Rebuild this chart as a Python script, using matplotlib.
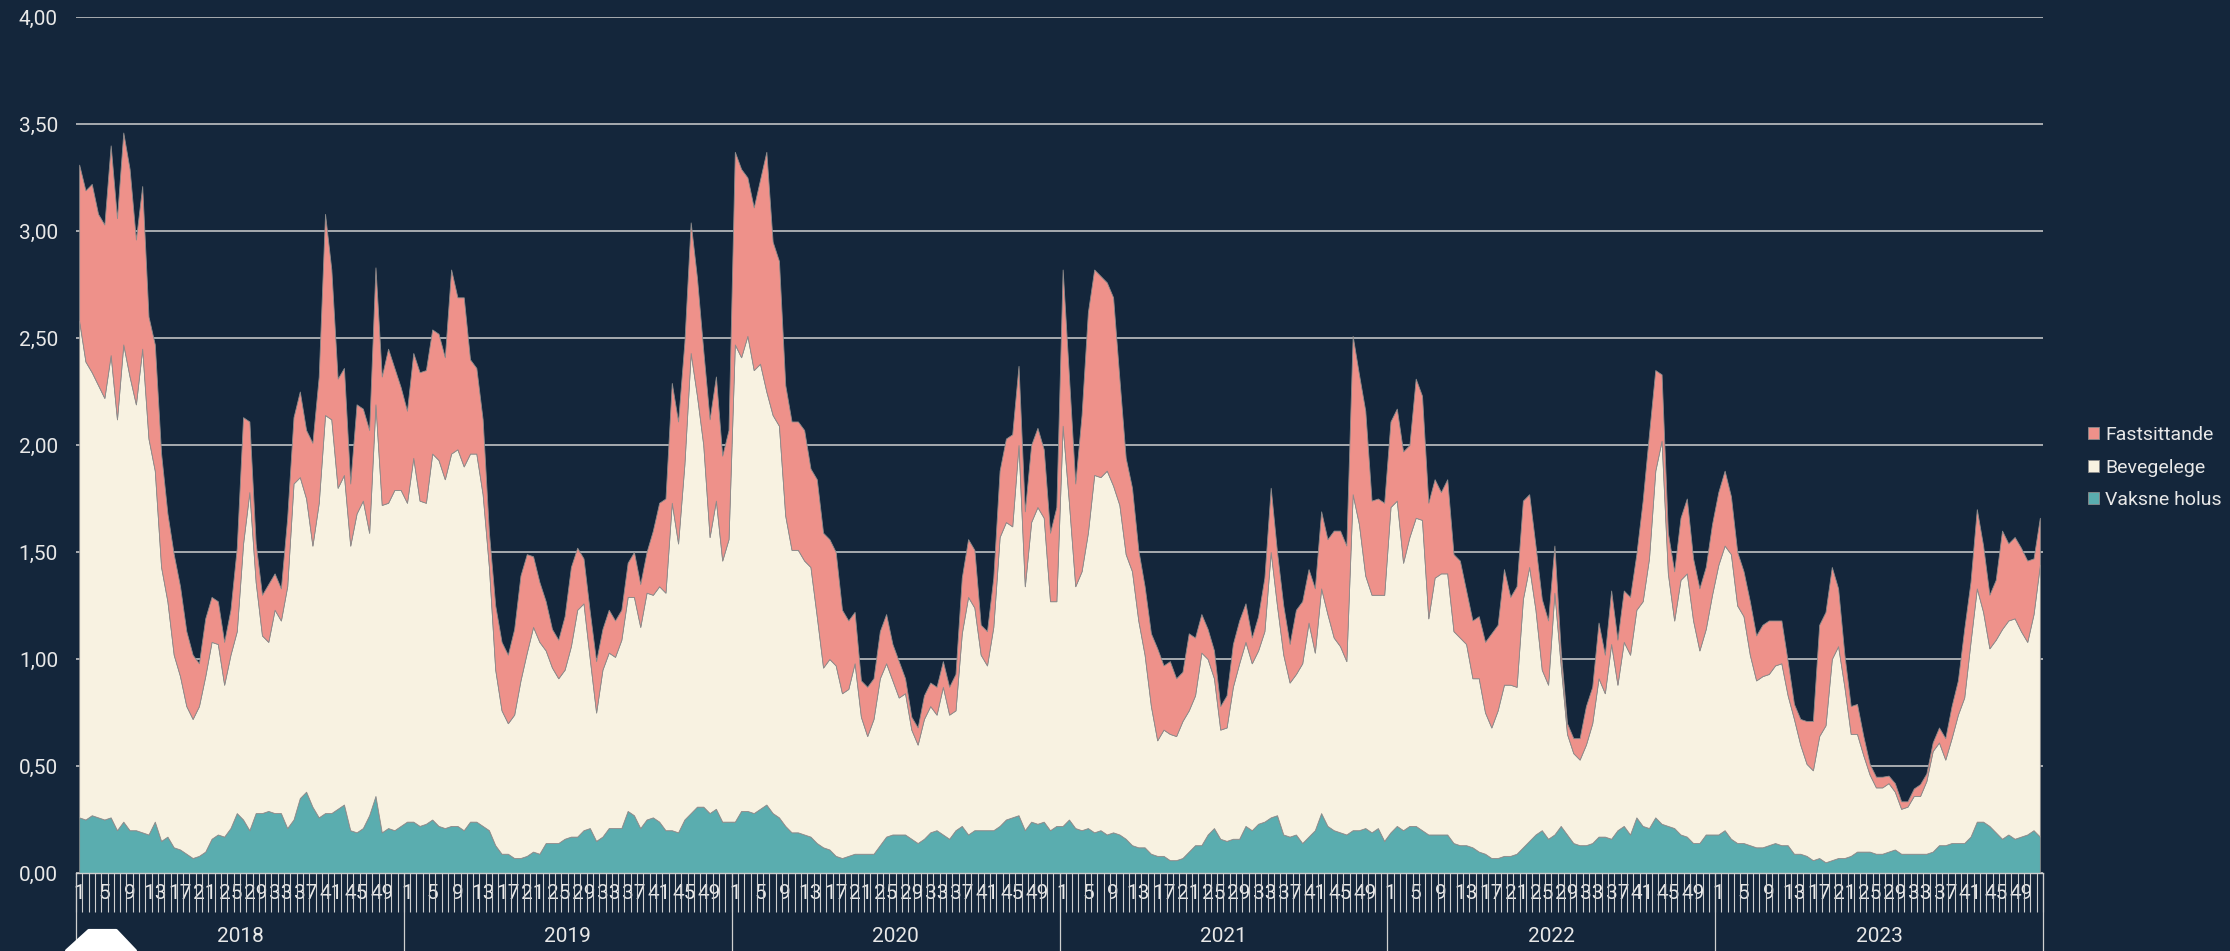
import numpy as np
import matplotlib.pyplot as plt
from matplotlib.patches import Polygon

plt.rcParams['font.family'] = ['Roboto', 'DejaVu Sans']

BG = '#14263b'
SALMON = '#ee918a'
CREAM = '#f8f2e1'
TEAL = '#5aadaf'
GRID = '#cfcfcf'
TXT = '#e8e8e8'

years = ['2018', '2019', '2020', '2021', '2022', '2023']
weeks_per_year = 52
week_labels = list(range(1, 53, 4))
y_ticks = [0, 0.5, 1.0, 1.5, 2.0, 2.5, 3.0, 3.5, 4.0]
y_tick_labels = ['0,00', '0,50', '1,00', '1,50', '2,00', '2,50', '3,00', '3,50', '4,00']
series_names = ['Vaksne holus', 'Bevegelege', 'Fastsittande']

# weekly values, one row per year (2018 .. 2023)
vaksne_holus = [
    .26, .25, .27, .26, .25, .26, .20, .24, .20, .20, .19, .18, .24, .15, .17, .12, .11, .09, .07, .08, .10, .16, .18, .17, .21, .28,
    .25, .20, .28, .28, .29, .28, .28, .21, .25, .35, .38, .31, .26, .28, .28, .30, .32, .20, .19, .21, .27, .36, .19, .21, .20, .22,
    .24, .24, .22, .23, .25, .22, .21, .22, .22, .20, .24, .24, .22, .20, .13, .09, .09, .07, .07, .08, .10, .09, .14, .14, .14, .16,
    .17, .17, .20, .21, .15, .17, .21, .21, .21, .29, .27, .21, .25, .26, .24, .20, .20, .19, .25, .28, .31, .31, .28, .30, .24, .24,
    .24, .29, .29, .28, .30, .32, .28, .26, .22, .19, .19, .18, .17, .14, .12, .11, .08, .07, .08, .09, .09, .09, .09, .13, .17, .18,
    .18, .18, .16, .14, .16, .19, .20, .18, .16, .20, .22, .18, .20, .20, .20, .20, .22, .25, .26, .27, .20, .24, .23, .24, .20, .22,
    .22, .25, .21, .20, .21, .19, .20, .18, .19, .18, .16, .13, .12, .12, .09, .08, .08, .06, .06, .07, .10, .13, .13, .18, .21, .16,
    .15, .16, .16, .22, .20, .23, .24, .26, .27, .18, .17, .18, .14, .17, .20, .28, .22, .20, .19, .18, .20, .20, .21, .19, .21, .15,
    .19, .22, .20, .22, .22, .20, .18, .18, .18, .18, .14, .13, .13, .12, .10, .09, .07, .07, .08, .08, .09, .12, .15, .18, .20, .16,
    .18, .22, .18, .14, .13, .13, .14, .17, .17, .16, .20, .22, .18, .26, .22, .21, .26, .23, .22, .21, .18, .17, .14, .14, .18, .18,
    .18, .20, .16, .14, .14, .13, .12, .12, .13, .14, .13, .13, .09, .09, .08, .06, .07, .05, .06, .07, .07, .08, .10, .10, .10, .09,
    .09, .10, .11, .09, .09, .09, .09, .09, .10, .13, .13, .14, .14, .14, .17, .24, .24, .22, .19, .16, .18, .16, .17, .18, .20, .17,
]

bevegelege = [
    2.32, 2.14, 2.07, 2.02, 1.97, 2.16, 1.92, 2.23, 2.12, 1.99, 2.26, 1.85, 1.64, 1.28, 1.10, .90, .81, .69, .65, .70, .82, .92, .89, .71, .81, .85,
    1.29, 1.58, 1.08, .83, .79, .95, .90, 1.13, 1.57, 1.50, 1.37, 1.22, 1.47, 1.86, 1.84, 1.50, 1.54, 1.33, 1.49, 1.53, 1.32, 1.83, 1.53, 1.52, 1.59, 1.57,
    1.49, 1.70, 1.52, 1.50, 1.71, 1.71, 1.63, 1.74, 1.76, 1.70, 1.72, 1.72, 1.55, 1.23, .82, .67, .61, .67, .83, .95, 1.05, .99, .90, .82, .77, .79,
    .89, 1.06, 1.06, .79, .60, .78, .82, .80, .88, 1.00, 1.02, .94, 1.06, 1.04, 1.10, 1.11, 1.53, 1.35, 1.66, 2.15, 1.92, 1.69, 1.29, 1.44, 1.22, 1.32,
    2.23, 2.12, 2.22, 2.07, 2.08, 1.93, 1.86, 1.83, 1.45, 1.32, 1.32, 1.28, 1.26, 1.06, .84, .89, .89, .77, .78, .89, .64, .55, .63, .78, .81, .72,
    .64, .66, .51, .46, .56, .59, .54, .69, .58, .56, .90, 1.11, 1.04, .82, .77, .95, 1.35, 1.39, 1.36, 1.73, 1.14, 1.40, 1.48, 1.42, 1.07, 1.05,
    1.87, 1.48, 1.13, 1.21, 1.38, 1.67, 1.65, 1.70, 1.62, 1.54, 1.33, 1.28, 1.06, .90, .69, .54, .59, .59, .58, .64, .66, .70, .90, .82, .70, .51,
    .53, .71, .82, .86, .78, .81, .89, 1.24, .98, .84, .72, .75, .84, 1.00, .83, 1.05, .99, .90, .87, .81, 1.57, 1.43, 1.18, 1.11, 1.09, 1.15,
    1.52, 1.52, 1.25, 1.35, 1.44, 1.45, 1.01, 1.20, 1.22, 1.22, .99, .97, .94, .79, .81, .66, .61, .69, .80, .80, .78, 1.16, 1.28, 1.05, .75, .72,
    1.13, .75, .47, .42, .40, .47, .56, .74, .67, .91, .68, .86, .84, .97, 1.05, 1.26, 1.62, 1.79, 1.18, .97, 1.19, 1.23, 1.04, .90, .96, 1.12,
    1.26, 1.33, 1.33, 1.11, 1.06, .89, .78, .80, .80, .83, .85, .70, .63, .51, .43, .42, .57, .64, .94, .99, .80, .57, .55, .45, .36, .31,
    .31, .32, .27, .21, .22, .27, .27, .34, .47, .48, .40, .49, .60, .68, .91, 1.09, .98, .83, .90, .98, 1.00, 1.03, .96, .90, 1.01, 1.27,
]

fastsittande = [
    .73, .80, .88, .80, .81, .98, .94, .99, .97, .77, .76, .57, .59, .53, .41, .47, .42, .35, .30, .20, .27, .21, .20, .20, .21, .39,
    .59, .33, .18, .19, .27, .17, .15, .32, .31, .40, .32, .48, .59, .94, .70, .51, .50, .29, .51, .43, .48, .64, .60, .72, .57, .48,
    .43, .49, .60, .62, .58, .59, .57, .86, .71, .79, .44, .40, .35, .16, .30, .32, .32, .40, .49, .46, .33, .28, .23, .18, .18, .25,
    .37, .29, .21, .22, .24, .19, .20, .17, .14, .16, .21, .20, .19, .30, .39, .44, .56, .57, .57, .61, .55, .44, .55, .58, .49, .51,
    .90, .88, .74, .76, .86, 1.12, .81, .77, .61, .60, .60, .61, .46, .64, .63, .56, .53, .39, .32, .24, .17, .23, .19, .22, .23, .17,
    .17, .07, .06, .08, .11, .11, .13, .12, .13, .17, .26, .27, .27, .14, .16, .23, .31, .39, .43, .37, .35, .36, .37, .32, .32, .44,
    .73, .59, .48, .73, 1.03, .96, .94, .88, .88, .59, .45, .39, .33, .32, .34, .43, .30, .34, .27, .23, .36, .27, .18, .14, .13, .11,
    .15, .20, .20, .18, .12, .16, .25, .30, .25, .23, .18, .30, .29, .25, .30, .36, .35, .50, .54, .54, .74, .70, .77, .44, .45, .43,
    .40, .43, .52, .43, .65, .58, .54, .46, .38, .44, .36, .36, .25, .27, .29, .33, .44, .40, .54, .41, .47, .46, .34, .30, .33, .30,
    .22, .07, .05, .07, .10, .18, .17, .26, .18, .25, .21, .24, .27, .26, .47, .58, .47, .31, .19, .23, .29, .35, .29, .29, .29, .33,
    .34, .35, .27, .25, .21, .25, .21, .24, .25, .21, .20, .16, .07, .12, .20, .23, .52, .53, .43, .27, .15, .13, .14, .09, .05, .05,
    .05, .035, .04, .035, .025, .035, .055, .035, .04, .07, .10, .15, .16, .32, .28, .37, .31, .25, .28, .46, .36, .38, .39, .38, .26, .22,
]

n = len(years) * weeks_per_year
x = np.arange(n)

fig = plt.figure(figsize=(22.3, 9.51), dpi=100)
fig.patch.set_facecolor(BG)
ax = fig.add_axes([76 / 2230, 78 / 951, 1967 / 2230, 856 / 951])
ax.set_facecolor(BG)

polys = ax.stackplot(x, vaksne_holus, bevegelege, fastsittande,
                     colors=[TEAL, CREAM, SALMON], labels=series_names,
                     edgecolor='#8c8c8c', linewidth=0.6, zorder=2)

ax.set_xlim(-0.5, n - 0.5)
ax.set_ylim(0, 4)
ax.set_yticks(y_ticks, y_tick_labels)
ax.yaxis.grid(True, color=GRID, linewidth=1.1)
ax.set_axisbelow(True)
for side in ['top', 'right', 'left']:
    ax.spines[side].set_visible(False)
ax.spines['bottom'].set_color(GRID)
ax.spines['bottom'].set_linewidth(1.0)
ax.spines['bottom'].set_zorder(3)

ax.tick_params(axis='y', length=0, pad=13, labelsize=15, labelcolor=TXT)

# week labels (1, 5, 9, ...) under each year
label_pos = [i * weeks_per_year + (w - 1) for i in range(len(years)) for w in week_labels]
label_txt = [str(w) for i in range(len(years)) for w in week_labels]
ax.set_xticks(label_pos, label_txt)
ax.tick_params(axis='x', which='major', length=0, pad=8, labelsize=15, labelcolor=TXT)
ax.set_xticks(np.arange(-0.5, n, 1), minor=True)
ax.tick_params(axis='x', which='minor', length=28, width=0.8, color=GRID, direction='out')

# year separators and year names
bounds = np.arange(0, n + 1, weeks_per_year) - 0.5
ax.vlines(bounds, -78 / 856, 0, transform=ax.get_xaxis_transform(),
          colors=GRID, linewidth=0.9, clip_on=False)
for i, yr in enumerate(years):
    ax.text(i * weeks_per_year + weeks_per_year / 2 - 0.5, -64 / 856, yr,
            transform=ax.get_xaxis_transform(), ha='center', va='center',
            fontsize=15, color=TXT)

handles = polys[::-1]
ax.legend(handles, [h.get_label() for h in handles], loc='upper left',
          bbox_to_anchor=(2088 / 2230, 1 - 426 / 951), bbox_transform=fig.transFigure,
          frameon=False, fontsize=14, labelcolor=TXT, borderpad=0, borderaxespad=0,
          handlelength=0.57, handleheight=0.57, handletextpad=0.3, labelspacing=0.75)

# white tab cut off at the lower left corner
tab = Polygon([(67 / 2230, 0), (89 / 2230, 20 / 951), (116 / 2230, 20 / 951), (135 / 2230, 0)],
              closed=True, transform=fig.transFigure, facecolor='white',
              edgecolor='white', linewidth=3, joinstyle='round')
fig.add_artist(tab)

fig.savefig('out.png', dpi=100, facecolor=BG)
